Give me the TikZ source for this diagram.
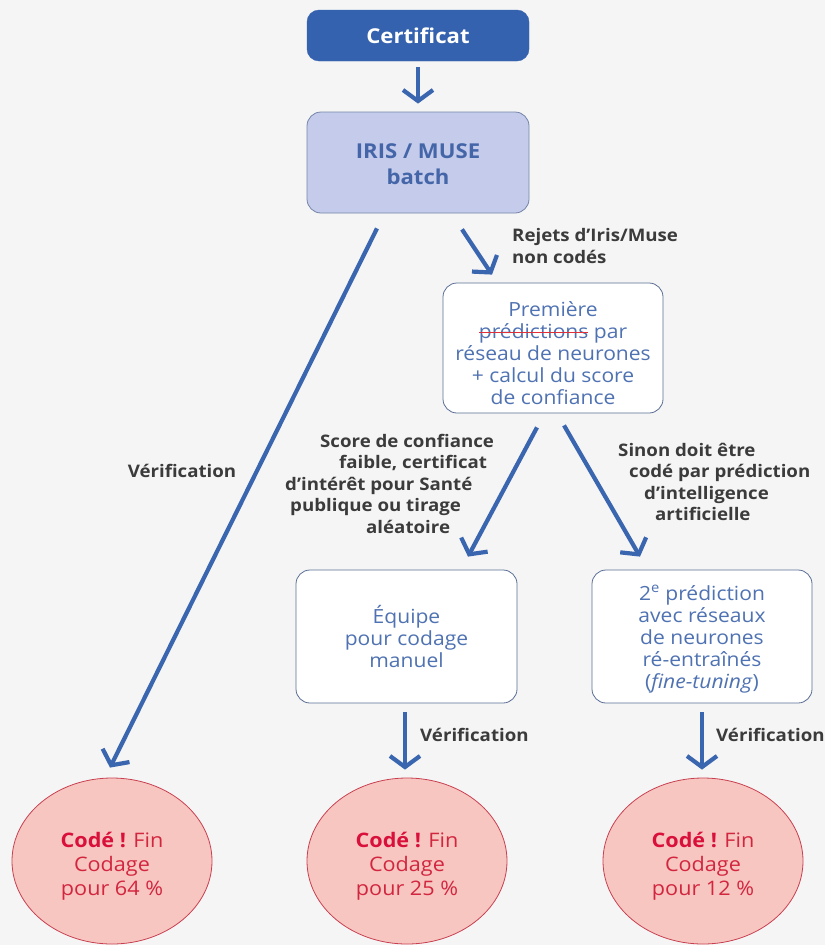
\documentclass[tikz,border=0pt]{standalone}
\usepackage{fontspec}
\setmainfont[FakeStretch=1.08]{Open Sans}
\usetikzlibrary{arrows.meta,shapes.geometric}
\definecolor{bgc}{HTML}{F5F5F5}
\definecolor{certfill}{HTML}{3562AE}
\definecolor{arrc}{HTML}{3A65AF}
\definecolor{irisfill}{HTML}{C5CBEB}
\definecolor{irisborder}{HTML}{7485A8}
\definecolor{iristext}{HTML}{4466A9}
\definecolor{boxborder}{HTML}{5A6E95}
\definecolor{boxtext}{HTML}{4F72B2}
\definecolor{labeltext}{HTML}{3B3B3B}
\definecolor{circfill}{HTML}{F8C6C1}
\definecolor{circborder}{HTML}{C84050}
\definecolor{codetext}{HTML}{D9103A}
\definecolor{circtext}{HTML}{D2263F}
\definecolor{strkc}{HTML}{E0303A}
\newcommand\mystrike[1]{\begingroup\setbox0\hbox{#1}\rlap{\usebox0}\raisebox{0.3em}{\textcolor{strkc}{\rule{\wd0}{1.2pt}}}\endgroup}
\tikzset{
  arr/.style={draw=arrc, line width=4.2pt, -{Straight Barb[length=11pt,width=30pt,line width=4.2pt]}},
  certbox/.style={draw=certfill, fill=certfill, rounded corners=12pt, minimum width=222pt, minimum height=51pt, text=white, font=\fontsize{20.5}{22}\selectfont\bfseries, inner sep=0pt},
  irisbox/.style={draw=irisborder, line width=0.8pt, fill=irisfill, rounded corners=14pt, minimum width=222pt, minimum height=101pt, text=iristext, font=\fontsize{20.5}{26}\selectfont\bfseries, align=center, inner sep=0pt},
  wbox/.style={draw=boxborder, line width=0.8pt, fill=white, rounded corners=14pt, text=boxtext, font=\fontsize{19.5}{22}\selectfont, align=center, inner sep=0pt},
  endcirc/.style={ellipse, draw=circborder, line width=0.8pt, fill=circfill, minimum width=200pt, minimum height=166pt, text=circtext, font=\fontsize{20}{24}\selectfont, align=center, inner sep=0pt},
  lbl/.style={text=labeltext, font=\fontsize{17.3}{21.5}\selectfont\bfseries, inner sep=0pt},
}
\begin{document}
\begin{tikzpicture}[x=1pt,y=-1pt]
\path[fill=bgc] (0,0) rectangle (825,945);
\useasboundingbox (0,0) rectangle (825,945);

\node[certbox] (cert) at (418,35.5) {Certificat};
\node[irisbox] (iris) at (418,162.5) {\rule{0pt}{19pt}IRIS / MUSE\\batch};
\node[wbox, minimum width=220pt, minimum height=130pt] (prem) at (553,348) {\rule{0pt}{26pt}Première\\\mystrike{prédictions} par\\réseau de neurones\\+ calcul du score\\de confiance};
\node[wbox, minimum width=221pt, minimum height=133pt] (equipe) at (406.5,636.5) {Équipe\\pour codage\\manuel};
\node[wbox, minimum width=220pt, minimum height=133pt] (pred) at (702,636.5) {\rule{0pt}{20pt}2\textsuperscript{e} prédiction\\avec réseaux\\de neurones\\ré-entraînés\\(\textit{fine-tuning})};

\node[endcirc] (c1) at (112,861) {\rule{0pt}{25pt}\textcolor{codetext}{\bfseries Codé !} Fin\\Codage\\pour 64 \%};
\node[endcirc] (c2) at (407,861) {\rule{0pt}{25pt}\textcolor{codetext}{\bfseries Codé !} Fin\\Codage\\pour 25 \%};
\node[endcirc] (c3) at (703,861) {\rule{0pt}{25pt}\textcolor{codetext}{\bfseries Codé !} Fin\\Codage\\pour 12 \%};

\draw[arr] ([yshift=-6pt]cert.south) -- ([yshift=8pt]iris.north);
\draw[arr] ([xshift=-41pt,yshift=-15pt]iris.south) -- ([xshift=-2pt,yshift=10pt]c1.north);
\draw[arr] ([xshift=44pt,yshift=-16pt]iris.south) -- ([xshift=-61pt,yshift=8pt]prem.north);
\draw[arr] ([xshift=-16pt,yshift=-14pt]prem.south) -- ([xshift=61.5pt,yshift=13pt]equipe.north);
\draw[arr] ([xshift=11pt,yshift=-12pt]prem.south) -- ([xshift=-62pt,yshift=13pt]pred.north);
\draw[arr] ([xshift=-1.5pt,yshift=-9pt]equipe.south) -- ([xshift=-2pt,yshift=8pt]c2.north);
\draw[arr] ([yshift=-9pt]pred.south) -- ([xshift=-1pt,yshift=8pt]c3.north);

\node[lbl] (v1) at (182,471) {Vérification};
\node[lbl, anchor=west, align=left] (rej) at (512,246) {Rejets d’Iris/Muse\\non codés};
\node[lbl, anchor=north west, align=left] (score) at (285,434) {\hspace*{35pt}Score de confiance\\\hspace*{54pt}faible, certificat\\d’intérêt pour Santé\\\hspace*{5pt}publique ou tirage\\\hspace*{81pt}aléatoire};
\node[lbl, anchor=north west, align=left] (sinon) at (618,443) {Sinon doit être\\\hspace*{11pt}codé par prédiction\\\hspace*{26pt}d’intelligence\\\hspace*{37pt}artificielle};
\node[lbl, anchor=west] (v2) at (420,735) {Vérification};
\node[lbl, anchor=west] (v3) at (716,735) {Vérification};
\end{tikzpicture}
\end{document}
